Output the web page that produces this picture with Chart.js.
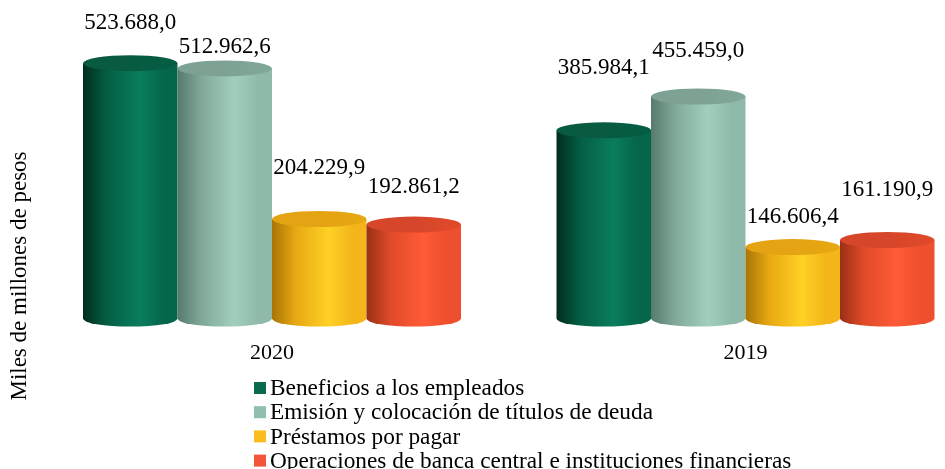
<!DOCTYPE html>
<html>
<head>
<meta charset="utf-8">
<script src="https://cdn.jsdelivr.net/npm/chart.js@4"></script>
<style>
  html, body { margin: 0; background: #fff; }
  #wrap { width: 945px; height: 469px; }
</style>
</head>
<body>
<div id="wrap"><canvas id="myChart"></canvas></div>
<script>
const years = ['2020', '2019'];
const seriesNames = [
  'Beneficios a los empleados',
  'Emisión y colocación de títulos de deuda',
  'Préstamos por pagar',
  'Operaciones de banca central e instituciones financieras',
];
const beneficios = [523688.0, 385984.1];
const emision = [512962.6, 455459.0];
const prestamos = [204229.9, 146606.4];
const operaciones = [192861.2, 161190.9];
const yTitle = 'Miles de millones de pesos';

// colours: shadow edge, body, highlight, right edge, top, legend swatch
const shades = [
  { edge: '#002d1e', body: '#045e44', hi: '#0a7d5d', right: '#05664a', top: '#085a41', key: '#0a6b50' },
  { edge: '#577a6d', body: '#80a898', hi: '#a2cfbd', right: '#8fbaa9', top: '#7da293', key: '#8fbfae' },
  { edge: '#a87505', body: '#e8a812', hi: '#ffd126', right: '#f3b519', top: '#e3a313', key: '#fbbd1e' },
  { edge: '#983015', body: '#e04a2a', hi: '#ff5b36', right: '#ee4f2e', top: '#d6462a', key: '#f4553a' },
];
// how far each value label sits above its bar top (2020, 2019)
const labelLift = [[40, 62], [21, 46], [51, 30], [38, 50]];

const serif = 'Liberation Serif';

function fmt(v) {
  const p = v.toFixed(1).split('.');
  return p[0].replace(/\B(?=(\d{3})+(?!\d))/g, '.') + ',' + p[1];
}

const cylinders = {
  id: 'cylinders',
  beforeDatasetsDraw(chart) {
    const ctx = chart.ctx;
    chart.data.datasets.forEach((ds, d) => {
      const c = shades[d];
      chart.getDatasetMeta(d).data.forEach(bar => {
        const { x, y, base, width } = bar.getProps(['x', 'y', 'base', 'width'], true);
        const l = x - width / 2, r = x + width / 2, rx = width / 2, ry = 8;
        const g = ctx.createLinearGradient(l, 0, r, 0);
        g.addColorStop(0, c.edge);
        g.addColorStop(0.25, c.body);
        g.addColorStop(0.6, c.hi);
        g.addColorStop(0.85, c.right);
        g.addColorStop(1, c.right);
        ctx.save();
        ctx.beginPath();
        ctx.moveTo(l, y);
        ctx.lineTo(l, base);
        ctx.ellipse(x, base, rx, ry, 0, Math.PI, 0, true);
        ctx.lineTo(r, y);
        ctx.closePath();
        ctx.fillStyle = g;
        ctx.fill();
        const t = ctx.createLinearGradient(l, 0, r, 0);
        t.addColorStop(0, c.top);
        t.addColorStop(0.5, c.top);
        t.addColorStop(1, c.body);
        ctx.beginPath();
        ctx.ellipse(x, y, rx, ry, 0, 0, Math.PI * 2);
        ctx.fillStyle = t;
        ctx.fill();
        ctx.restore();
      });
    });
    return false;
  },
  afterDraw(chart) {
    const ctx = chart.ctx;
    ctx.save();
    ctx.fillStyle = '#000';
    // value labels
    ctx.font = '23px "' + serif + '"';
    ctx.textAlign = 'center';
    ctx.textBaseline = 'middle';
    chart.data.datasets.forEach((ds, d) => {
      chart.getDatasetMeta(d).data.forEach((bar, i) => {
        ctx.fillText(fmt(ds.data[i]), bar.x, bar.y - labelLift[d][i]);
      });
    });
    // legend
    ctx.font = '23.3px "' + serif + '"';
    ctx.textAlign = 'left';
    chart.data.datasets.forEach((ds, d) => {
      const cy = 388 + d * 24.2;
      ctx.fillStyle = shades[d].key;
      ctx.fillRect(254, cy - 6, 12, 12);
      ctx.fillStyle = '#000';
      ctx.fillText(ds.label, 270, cy + 1);
    });
    // y axis title
    ctx.font = '23px "' + serif + '"';
    ctx.translate(20, 276);
    ctx.rotate(-Math.PI / 2);
    ctx.textAlign = 'center';
    ctx.fillText(yTitle, 0, 0);
    ctx.restore();
  }
};

const datasets = [beneficios, emision, prestamos, operaciones].map((vals, d) => ({
  label: seriesNames[d],
  data: vals,
  backgroundColor: shades[d].key,
  barThickness: 94.5,
}));

new Chart(document.getElementById('myChart'), {
  type: 'bar',
  data: { labels: years, datasets: datasets },
  options: {
    responsive: true,
    maintainAspectRatio: false,
    animation: false,
    layout: { padding: { top: 26, left: 272, right: 199.5, bottom: 82 } },
    plugins: {
      legend: { display: false },
      tooltip: { enabled: false },
    },
    scales: {
      x: {
        offset: false,
        grid: { display: false, drawTicks: false },
        border: { display: false },
        ticks: {
          color: '#000',
          font: { family: serif, size: 22 },
          padding: 21,
          maxRotation: 0,
          autoSkip: false,
        },
      },
      y: { display: false, min: 0, max: 600000 },
    },
  },
  plugins: [cylinders],
});
</script>
</body>
</html>
